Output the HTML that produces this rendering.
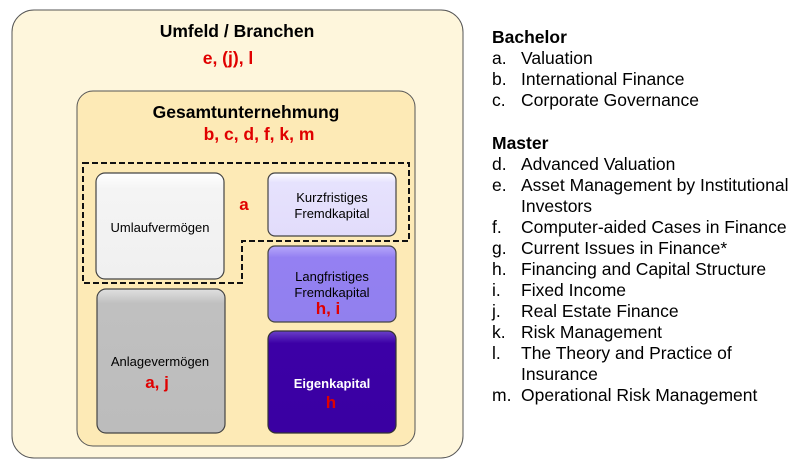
<!DOCTYPE html>
<html><head><meta charset="utf-8"><style>
html,body{margin:0;padding:0;background:#fff;width:803px;height:463px;overflow:hidden}
svg{display:block;font-family:"Liberation Sans",Arial,sans-serif}
</style></head><body>
<svg width="803" height="463" viewBox="0 0 803 463">
<defs>
<linearGradient id="gw" x1="0" y1="0" x2="0" y2="1"><stop offset="0" stop-color="#ffffff"/><stop offset="0.15" stop-color="#f4f4f4"/><stop offset="1" stop-color="#f0f0f0"/></linearGradient>
<linearGradient id="gg" x1="0" y1="0" x2="0" y2="1"><stop offset="0" stop-color="#e0e0e0"/><stop offset="0.1" stop-color="#c0c0c0"/><stop offset="1" stop-color="#bcbcbc"/></linearGradient>
<linearGradient id="gk" x1="0" y1="0" x2="0" y2="1"><stop offset="0" stop-color="#ffffff"/><stop offset="0.15" stop-color="#e6e2fd"/><stop offset="1" stop-color="#e2dcfb"/></linearGradient>
<linearGradient id="gl" x1="0" y1="0" x2="0" y2="1"><stop offset="0" stop-color="#b6a8fa"/><stop offset="0.15" stop-color="#9480f2"/><stop offset="1" stop-color="#9180ee"/></linearGradient>
<linearGradient id="ge" x1="0" y1="0" x2="0" y2="1"><stop offset="0" stop-color="#6a40c8"/><stop offset="0.12" stop-color="#3c00a6"/><stop offset="1" stop-color="#3a00a2"/></linearGradient>
</defs>
<rect x="12" y="10" width="451" height="448" rx="22" fill="#fef6dc" stroke="#555" stroke-width="1"/>
<rect x="77" y="91" width="338" height="355" rx="16" fill="#fdeab6" stroke="#555" stroke-width="1"/>
<text x="237" y="37" font-size="17.5" font-weight="bold" text-anchor="middle" fill="#000">Umfeld / Branchen</text>
<text x="228" y="64" font-size="17.5" font-weight="bold" text-anchor="middle" fill="#e00000">e, (j), l</text>
<text x="246" y="118" font-size="17.5" font-weight="bold" text-anchor="middle" fill="#000">Gesamtunternehmung</text>
<text x="259" y="140" font-size="17.5" font-weight="bold" text-anchor="middle" fill="#e00000">b, c, d, f, k, m</text>
<rect x="96" y="173" width="128" height="106" rx="9" fill="url(#gw)" stroke="#444" stroke-width="1.2"/>
<rect x="97" y="289" width="128" height="144" rx="9" fill="url(#gg)" stroke="#444" stroke-width="1.2"/>
<rect x="268" y="173" width="128" height="63" rx="7" fill="url(#gk)" stroke="#444" stroke-width="1.2"/>
<rect x="268" y="246" width="128" height="76" rx="7" fill="url(#gl)" stroke="#444" stroke-width="1.2"/>
<rect x="268" y="331" width="128" height="102" rx="8" fill="url(#ge)" stroke="#333" stroke-width="1.2"/>
<path d="M83 163 H409 V241 H242 V283 H83 Z" fill="none" stroke="#111" stroke-width="2" stroke-dasharray="6,3"/>
<text x="160" y="232" font-size="13" text-anchor="middle" fill="#000">Umlaufvermögen</text>
<text x="244" y="210" font-size="17" font-weight="bold" text-anchor="middle" fill="#e00000">a</text>
<text x="332" y="202" font-size="13" text-anchor="middle" fill="#000">Kurzfristiges</text>
<text x="332" y="218" font-size="13" text-anchor="middle" fill="#000">Fremdkapital</text>
<text x="332" y="281" font-size="13" text-anchor="middle" fill="#000">Langfristiges</text>
<text x="332" y="297" font-size="13" text-anchor="middle" fill="#000">Fremdkapital</text>
<text x="328" y="314" font-size="17" font-weight="bold" text-anchor="middle" fill="#e00000">h, i</text>
<text x="160" y="366" font-size="13" text-anchor="middle" fill="#000">Anlagevermögen</text>
<text x="157" y="388" font-size="17" font-weight="bold" text-anchor="middle" fill="#e00000">a, j</text>
<text x="332" y="388" font-size="13" font-weight="bold" text-anchor="middle" fill="#fff">Eigenkapital</text>
<text x="331" y="408" font-size="17" font-weight="bold" text-anchor="middle" fill="#e00000">h</text>
<g font-size="17.5" fill="#000">
<text x="492" y="43" font-weight="bold">Bachelor</text>
<text x="492" y="64">a.</text><text x="521" y="64">Valuation</text>
<text x="492" y="85">b.</text><text x="521" y="85">International Finance</text>
<text x="492" y="106">c.</text><text x="521" y="106">Corporate Governance</text>
<text x="492" y="149" font-weight="bold">Master</text>
<text x="492" y="170">d.</text><text x="521" y="170">Advanced Valuation</text>
<text x="492" y="191">e.</text><text x="521" y="191">Asset Management by Institutional</text>
<text x="521" y="212">Investors</text>
<text x="492" y="233">f.</text><text x="521" y="233">Computer-aided Cases in Finance</text>
<text x="492" y="254">g.</text><text x="521" y="254">Current Issues in Finance*</text>
<text x="492" y="275">h.</text><text x="521" y="275">Financing and Capital Structure</text>
<text x="492" y="296">i.</text><text x="521" y="296">Fixed Income</text>
<text x="492" y="317">j.</text><text x="521" y="317">Real Estate Finance</text>
<text x="492" y="338">k.</text><text x="521" y="338">Risk Management</text>
<text x="492" y="359">l.</text><text x="521" y="359">The Theory and Practice of</text>
<text x="521" y="380">Insurance</text>
<text x="492" y="401">m.</text><text x="521" y="401">Operational Risk Management</text>
</g>
</svg>
</body></html>
